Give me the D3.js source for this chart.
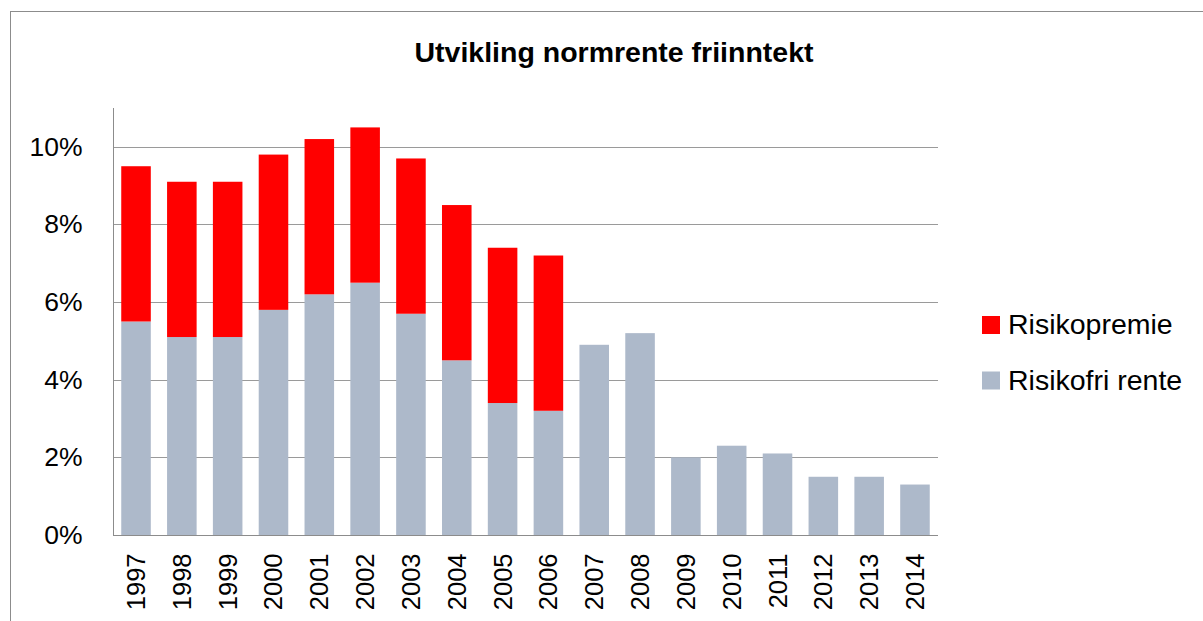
<!DOCTYPE html>
<html>
<head>
<meta charset="utf-8">
<script src="https://cdn.jsdelivr.net/npm/d3@7"></script>
<style>
  body { margin: 0; background: #fff; }
  text { font-family: "Liberation Sans", Arial, sans-serif; fill: #000; }
</style>
</head>
<body>
<div id="chart"></div>
<script>
// data
const years = ['1997', '1998', '1999', '2000', '2001', '2002', '2003', '2004', '2005',
    '2006', '2007', '2008', '2009', '2010', '2011', '2012', '2013', '2014'];
const risikofri = [5.5, 5.1, 5.1, 5.8, 6.2, 6.5, 5.7, 4.5, 3.4, 3.2, 4.9, 5.2, 2.0, 2.3, 2.1, 1.5, 1.5, 1.3];
const risikopremie = [4, 4, 4, 4, 4, 4, 4, 4, 4, 4, 0, 0, 0, 0, 0, 0, 0, 0];
const yTicks = [0, 2, 4, 6, 8, 10];
const seriesNames = ['Risikopremie', 'Risikofri rente'];
const seriesColors = ['#ff0000', '#adb9ca'];

const svgWidth = 1203;
const svgHeight = 621;

const margin = { top: 108, right: 265, bottom: 86, left: 113 };
const width = svgWidth - margin.left - margin.right;
const height = svgHeight - margin.top - margin.bottom;

const svg = d3.select('#chart')
    .append('svg')
    .attr('width', svgWidth)
    .attr('height', svgHeight);

// chart border (runs off the right and bottom of the picture)
svg.append('rect')
    .attr('x', 10.5)
    .attr('y', 11.5)
    .attr('width', 1400)
    .attr('height', 800)
    .attr('fill', 'none')
    .attr('stroke', '#8c8c8c');

svg.append('text')
    .attr('x', 614)
    .attr('y', 62)
    .attr('text-anchor', 'middle')
    .style('font-size', '28.5px')
    .style('font-weight', 'bold')
    .text('Utvikling normrente friinntekt');

const chartGroup = svg.append('g')
    .attr('transform', `translate(${margin.left}, ${margin.top})`);

const xScale = d3.scaleBand()
    .domain(years)
    .range([0, width])
    .paddingInner(0.355)
    .paddingOuter(0.18);

const yScale = d3.scaleLinear()
    .domain([0, 11])
    .range([height, 0]);

// gridlines
chartGroup.selectAll('.grid')
    .data(yTicks.filter(d => d > 0))
    .enter()
    .append('line')
    .attr('x1', 0)
    .attr('x2', width)
    .attr('y1', d => Math.round(yScale(d)) + 0.5)
    .attr('y2', d => Math.round(yScale(d)) + 0.5)
    .attr('stroke', '#9a9a9a');

// stacked bars
const stacked = years.map((y, i) => ({ year: y, base: risikofri[i], prem: risikopremie[i] }));

chartGroup.selectAll('.baseBar')
    .data(stacked)
    .enter()
    .append('rect')
    .attr('x', d => xScale(d.year))
    .attr('width', xScale.bandwidth())
    .attr('y', d => yScale(d.base))
    .attr('height', d => yScale(0) - yScale(d.base))
    .attr('fill', seriesColors[1]);

chartGroup.selectAll('.premBar')
    .data(stacked.filter(d => d.prem > 0))
    .enter()
    .append('rect')
    .attr('x', d => xScale(d.year))
    .attr('width', xScale.bandwidth())
    .attr('y', d => yScale(d.base + d.prem))
    .attr('height', d => yScale(d.base) - yScale(d.base + d.prem))
    .attr('fill', seriesColors[0]);

// axes
const leftAxis = d3.axisLeft(yScale)
    .tickValues(yTicks)
    .tickSize(0)
    .tickPadding(31)
    .tickFormat(d => d + '%');

const yAxis = chartGroup.append('g')
    .attr('transform', 'translate(0.5, 0)')
    .call(leftAxis);
yAxis.select('.domain').attr('stroke', '#8c8c8c').attr('d', `M0,0V${height}`);
yAxis.selectAll('text')
    .style('font-size', '26.5px')
    .style('font-family', '"Liberation Sans", Arial, sans-serif');

const bottomAxis = d3.axisBottom(xScale).tickSize(0).tickPadding(0);
const xAxis = chartGroup.append('g')
    .attr('transform', `translate(0, ${height + 0.5})`)
    .call(bottomAxis);
xAxis.select('.domain').attr('stroke', '#8c8c8c').attr('d', `M0,0H${width}`);
xAxis.selectAll('text')
    .style('font-size', '25.5px')
    .style('font-family', '"Liberation Sans", Arial, sans-serif')
    .attr('text-anchor', 'end')
    .attr('dy', null)
    .attr('y', 0)
    .attr('transform', 'translate(9, 18) rotate(-90)');

// legend
const legend = svg.append('g')
    .attr('transform', 'translate(982, 316)');

legend.selectAll('rect')
    .data(seriesNames)
    .enter()
    .append('rect')
    .attr('x', 0)
    .attr('y', (d, i) => i * 55.5)
    .attr('width', 18)
    .attr('height', 18)
    .attr('fill', (d, i) => seriesColors[i]);

legend.selectAll('text')
    .data(seriesNames)
    .enter()
    .append('text')
    .attr('x', 26)
    .attr('y', (d, i) => i * 55.5 + 18)
    .style('font-size', '28.5px')
    .text(d => d);
</script>
</body>
</html>
